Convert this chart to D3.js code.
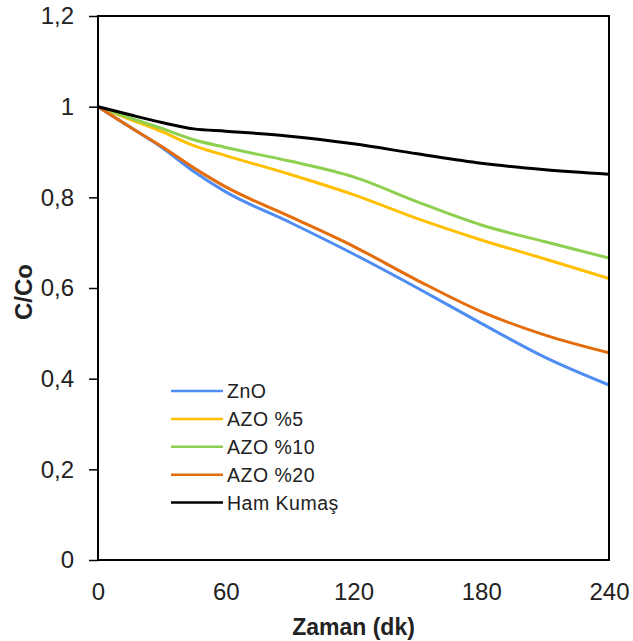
<!DOCTYPE html>
<html><head><meta charset="utf-8">
<script src="https://cdn.jsdelivr.net/npm/d3@7"></script>
<style>body{margin:0;background:#fff}svg{display:block}text{font-family:"Liberation Sans",Arial,sans-serif;fill:#222}</style>
</head><body><svg id="c" width="633" height="641"></svg>
<script>
const times = [0, 15, 30, 45, 60, 90, 120, 150, 180, 210, 240];
const seriesNames = ["ZnO", "AZO %5", "AZO %10", "AZO %20", "Ham Kumaş"];
const znO    = [1, 0.955, 0.910, 0.857, 0.812, 0.745, 0.675, 0.600, 0.522, 0.447, 0.386];
const azo5   = [1, 0.972, 0.945, 0.914, 0.892, 0.851, 0.806, 0.753, 0.706, 0.664, 0.621];
const azo10  = [1, 0.975, 0.952, 0.927, 0.910, 0.880, 0.845, 0.790, 0.739, 0.702, 0.666];
const azo20  = [1, 0.955, 0.912, 0.865, 0.823, 0.758, 0.692, 0.617, 0.548, 0.496, 0.457];
const hamKumas = [1, 0.982, 0.965, 0.951, 0.946, 0.935, 0.918, 0.896, 0.875, 0.861, 0.851];
const xTicks = [0, 60, 120, 180, 240];
const yTicks = [0, 0.2, 0.4, 0.6, 0.8, 1, 1.2];
const yTickLabels = ["0", "0,2", "0,4", "0,6", "0,8", "1", "1,2"];
const colors = ["#4F8DF2", "#FFC000", "#8DCF4F", "#E46C0A", "#000000"];

const allSeries = [znO, azo5, azo10, azo20, hamKumas];
const svg = d3.select("#c");
const L = 98, R = 609, T = 16, B = 560;
const x = d3.scaleLinear().domain([0, 240]).range([L, R]);
const y = d3.scaleLinear().domain([0, 1.2]).range([B, T]);

// y axis
const yAxis = svg.append("g").attr("transform", `translate(${L},0)`)
  .call(d3.axisLeft(y).tickValues(yTicks).tickSize(9).tickPadding(15)
    .tickFormat((d, i) => yTickLabels[i]));
yAxis.select(".domain").remove();
yAxis.selectAll("line").attr("stroke", "#000").attr("stroke-width", 1.5);
yAxis.selectAll("text").attr("font-size", 24).attr("fill", "#222")
  .attr("font-family", "Liberation Sans, Arial, sans-serif");

// x axis
const xAxis = svg.append("g").attr("transform", `translate(0,${B})`)
  .call(d3.axisBottom(x).tickValues(xTicks).tickSize(0).tickPadding(23));
xAxis.select(".domain").remove();
xAxis.selectAll("text").attr("font-size", 24).attr("fill", "#222")
  .attr("font-family", "Liberation Sans, Arial, sans-serif");

// lines
const line = d3.line().x((d, i) => x(times[i])).y(d => y(d)).curve(d3.curveMonotoneX);
allSeries.forEach((s, k) => {
  svg.append("path").datum(s).attr("d", line).attr("fill", "none")
    .attr("stroke", colors[k]).attr("stroke-width", 3).attr("stroke-linejoin", "round");
});

// frame
svg.append("rect").attr("x", L).attr("y", T).attr("width", R - L).attr("height", B - T)
  .attr("fill", "none").attr("stroke", "#000").attr("stroke-width", 2);

// axis titles
svg.append("text").attr("x", (L + R) / 2).attr("y", 635).attr("text-anchor", "middle")
  .attr("font-size", 23).attr("font-weight", "bold").text("Zaman (dk)");
svg.append("text").attr("transform", `translate(32,${292}) rotate(-90)`)
  .attr("text-anchor", "middle").attr("font-size", 24).attr("font-weight", "bold").text("C/Co");

// legend
const lg = svg.append("g");
seriesNames.forEach((n, k) => {
  const yy = 391 + k * 27.9;
  lg.append("line").attr("x1", 171).attr("x2", 223).attr("y1", yy).attr("y2", yy)
    .attr("stroke", colors[k]).attr("stroke-width", 2.5);
  lg.append("text").attr("x", 227).attr("y", yy + 7).attr("font-size", 19.5)
    .attr("letter-spacing", 0.5).text(n);
});
</script></body></html>
